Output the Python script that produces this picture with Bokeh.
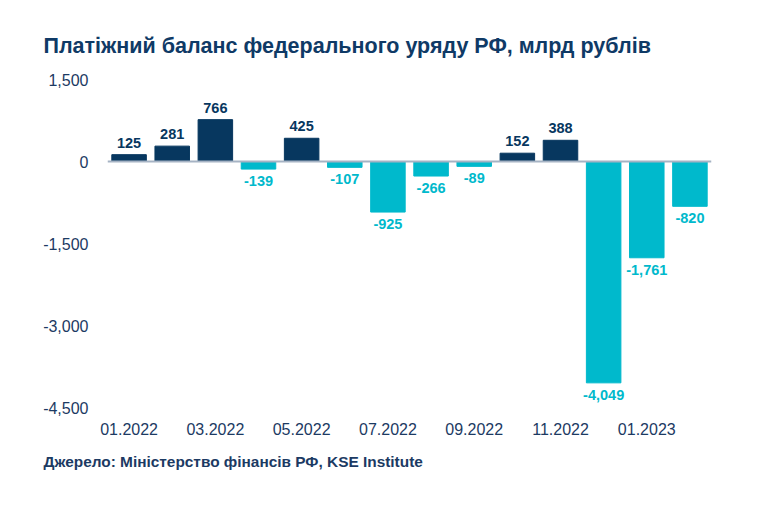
from bokeh.plotting import figure
from bokeh.models import ColumnDataSource, FixedTicker, Span, Title, NumeralTickFormatter
from bokeh.embed import file_html
from bokeh.resources import INLINE

months = ["01.2022", "02.2022", "03.2022", "04.2022", "05.2022", "06.2022", "07.2022",
          "08.2022", "09.2022", "10.2022", "11.2022", "12.2022", "01.2023", "02.2023"]
values = [125, 281, 766, -139, 425, -107, -925, -266, -89, 152, 388, -4049, -1761, -820]
y_ticks = [-4500, -3000, -1500, 0, 1500]

POS = "#07375f"
NEG = "#00b9cc"
TXT = "#1c3a63"
FONT = "Liberation Sans"

xs = list(range(len(values)))
colors = [POS if v >= 0 else NEG for v in values]
labels = [f"{v:,}" for v in values]
label_y = [v for v in values]
offsets = [-7 if v >= 0 else 7 for v in values]
baselines = ["bottom" if v >= 0 else "top" for v in values]

src = ColumnDataSource(dict(x=xs, top=values, color=colors, label=labels,
                            ly=label_y, off=offsets, base=baselines))

p = figure(width=756, height=497, output_backend="svg", toolbar_location=None,
           x_range=(-0.5, len(values) - 0.5), y_range=(y_ticks[0], y_ticks[-1]),
           min_border_left=107, min_border_right=45, min_border_top=79, min_border_bottom=90)

p.vbar(x="x", top="top", bottom=0, width=0.8, color="color", source=src)
p.add_layout(Span(location=0, dimension="width", line_color="#a6b3c4", line_width=2))

p.text(x="x", y="ly", text="label", source=src, y_offset="off", text_baseline="base",
       text_align="center", text_color="color", text_font_size="14.5px",
       text_font_style="bold", text_font={"value": FONT})

p.xaxis.ticker = FixedTicker(ticks=xs[::2])
p.xaxis.major_label_overrides = {i: months[i] for i in xs[::2]}
p.yaxis.ticker = FixedTicker(ticks=y_ticks)
p.yaxis.formatter = NumeralTickFormatter(format="0,0")

for ax in (p.xaxis, p.yaxis):
    ax.axis_line_color = None
    ax.major_tick_line_color = None
    ax.minor_tick_line_color = None
    ax.major_label_text_color = TXT
    ax.major_label_text_font = FONT
p.xaxis.major_label_text_font_size = "16px"
p.yaxis.major_label_text_font_size = "16px"
p.xaxis.major_label_standoff = 9
p.yaxis.major_label_standoff = 13

p.grid.visible = False
p.outline_line_color = None

p.title.text = "Платіжний баланс федерального уряду РФ, млрд рублів"
p.title.align = "left"
p.title.offset = -64
p.title.standoff = 44
p.title.text_font = FONT
p.title.text_font_size = "21.5px"
p.title.text_font_style = "bold"
p.title.text_color = "#0f3a66"

src_note = Title(text="Джерело: Міністерство фінансів РФ, KSE Institute", align="left",
                 offset=-64, text_font=FONT, text_font_size="15.4px", text_font_style="bold",
                 text_color=TXT, standoff=26)
p.add_layout(src_note, "below")

open("out.html", "w").write(file_html(p, INLINE))
